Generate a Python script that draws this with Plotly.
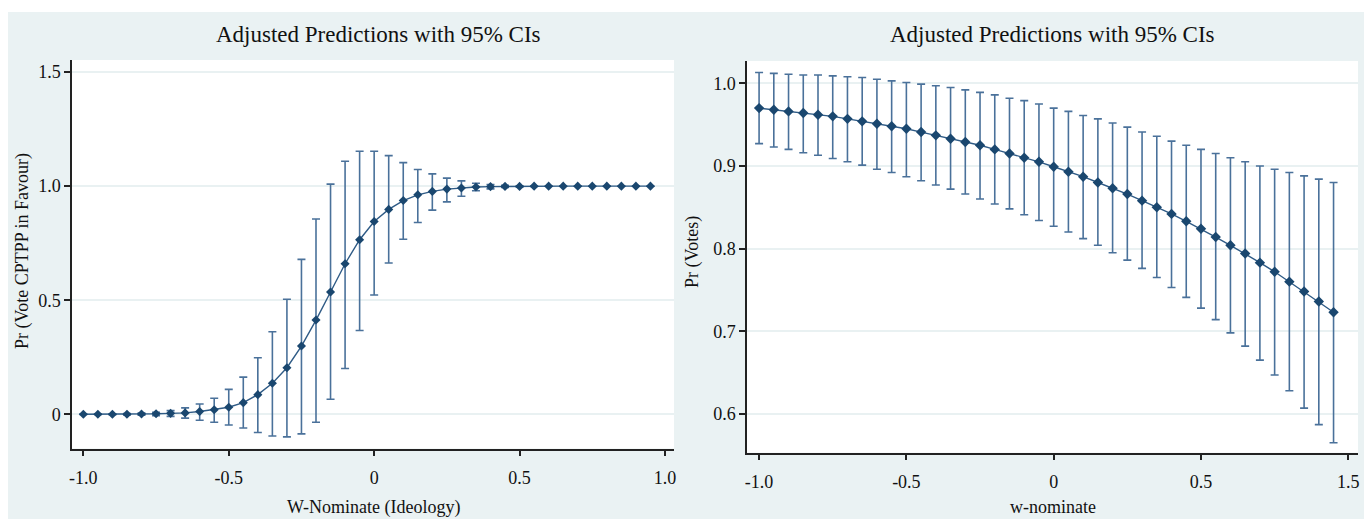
import plotly.graph_objects as go

# ---------------- data ----------------
x_left = [-1.00, -0.95, -0.90, -0.85, -0.80, -0.75, -0.70, -0.65, -0.60, -0.55,
          -0.50, -0.45, -0.40, -0.35, -0.30, -0.25, -0.20, -0.15, -0.10, -0.05,
          0.00, 0.05, 0.10, 0.15, 0.20, 0.25, 0.30, 0.35, 0.40, 0.45,
          0.50, 0.55, 0.60, 0.65, 0.70, 0.75, 0.80, 0.85, 0.90, 0.95]
pred_left = [0.000, 0.000, 0.000, 0.000, 0.001, 0.002, 0.004, 0.006, 0.012, 0.020,
             0.031, 0.051, 0.086, 0.136, 0.204, 0.299, 0.413, 0.536, 0.660, 0.765,
             0.845, 0.898, 0.937, 0.962, 0.977, 0.987, 0.992, 0.996, 0.998, 0.999,
             0.999, 1.000, 1.000, 1.000, 1.000, 1.000, 1.000, 1.000, 1.000, 1.000]
upper_left = [0.001, 0.001, 0.002, 0.003, 0.005, 0.009, 0.016, 0.028, 0.045, 0.070,
              0.109, 0.163, 0.248, 0.362, 0.504, 0.679, 0.856, 1.009, 1.109, 1.153,
              1.153, 1.134, 1.103, 1.073, 1.054, 1.035, 1.023, 1.013, 1.007, 1.004,
              1.002, 1.001, 1.000, 1.000, 1.000, 1.000, 1.000, 1.000, 1.000, 1.000]
lower_left = [-0.001, -0.001, -0.002, -0.003, -0.004, -0.006, -0.009, -0.017, -0.026, -0.035,
              -0.047, -0.060, -0.080, -0.095, -0.099, -0.086, -0.035, 0.066, 0.201, 0.367,
              0.523, 0.663, 0.767, 0.841, 0.895, 0.931, 0.956, 0.980, 0.988, 0.994,
              0.997, 0.999, 1.000, 1.000, 1.000, 1.000, 1.000, 1.000, 1.000, 1.000]

x_right = [-1.00, -0.95, -0.90, -0.85, -0.80, -0.75, -0.70, -0.65, -0.60, -0.55,
           -0.50, -0.45, -0.40, -0.35, -0.30, -0.25, -0.20, -0.15, -0.10, -0.05,
           0.00, 0.05, 0.10, 0.15, 0.20, 0.25, 0.30, 0.35, 0.40, 0.45,
           0.50, 0.55, 0.60, 0.65, 0.70, 0.75, 0.80, 0.85, 0.90, 0.95]
pred_right = [0.970, 0.968, 0.966, 0.964, 0.962, 0.960, 0.957, 0.954, 0.951, 0.948,
              0.945, 0.941, 0.937, 0.933, 0.929, 0.925, 0.920, 0.915, 0.910, 0.905,
              0.899, 0.893, 0.887, 0.880, 0.873, 0.866, 0.858, 0.850, 0.842, 0.833,
              0.824, 0.814, 0.804, 0.794, 0.783, 0.772, 0.760, 0.748, 0.736, 0.723]
upper_right = [1.013, 1.012, 1.011, 1.010, 1.010, 1.009, 1.008, 1.007, 1.005, 1.003,
               1.001, 0.999, 0.997, 0.995, 0.992, 0.989, 0.986, 0.982, 0.979, 0.975,
               0.970, 0.966, 0.961, 0.957, 0.952, 0.947, 0.941, 0.936, 0.930, 0.925,
               0.920, 0.915, 0.910, 0.905, 0.900, 0.896, 0.892, 0.888, 0.884, 0.880]
lower_right = [0.927, 0.923, 0.920, 0.916, 0.913, 0.909, 0.905, 0.901, 0.896, 0.892,
               0.887, 0.882, 0.877, 0.872, 0.866, 0.860, 0.854, 0.848, 0.841, 0.834,
               0.827, 0.820, 0.812, 0.804, 0.795, 0.786, 0.776, 0.765, 0.753, 0.741,
               0.728, 0.714, 0.698, 0.682, 0.665, 0.647, 0.628, 0.607, 0.587, 0.565]

x_tickvals = [-1.0, -0.5, 0.0, 0.5, 1.0]
x_ticktext_left = ["-1.0", "-0.5", "0", "0.5", "1.0"]
x_ticktext_right = ["-1.0", "-0.5", "0", "0.5", "1.5"]
y_tickvals_left = [0.0, 0.5, 1.0, 1.5]
y_ticktext_left = ["0", "0.5", "1.0", "1.5"]
y_tickvals_right = [0.6, 0.7, 0.8, 0.9, 1.0]
y_ticktext_right = ["0.6", "0.7", "0.8", "0.9", "1.0"]

title_text = "Adjusted Predictions with 95% CIs"
xlabel_left = "W-Nominate (Ideology)"
ylabel_left = "Pr (Vote CPTPP in Favour)"
xlabel_right = "w-nominate"
ylabel_right = "Pr (Votes)"

# ---------------- styling ----------------
W, H = 1372, 522
OFF = 8  # the page body places the figure 8 px from the window corner
FONT = "Liberation Serif"
BG = "#EAF2F3"
GRID = "#E9F1F2"
MARK = "#1A476F"
CI = "#4A719A"
LINE = "#2F5B86"


def fx(px):
    return (px - OFF) / W


def fy(py):
    return 1 - (py - OFF) / H


fig = go.Figure()


def add_panel(xs, ys, up, lo, xa, ya, msize):
    fig.add_trace(go.Scatter(
        x=xs, y=ys, xaxis=xa, yaxis=ya, mode="lines+markers",
        line=dict(color=LINE, width=1.4),
        marker=dict(symbol="diamond", size=msize, color=MARK),
        error_y=dict(type="data", symmetric=False,
                     array=[u - v for u, v in zip(up, ys)],
                     arrayminus=[v - l for v, l in zip(ys, lo)],
                     color=CI, thickness=1.6, width=4),
        showlegend=False, hoverinfo="skip"))


add_panel(x_left, pred_left, upper_left, lower_left, "x", "y", 7)
add_panel(x_right, pred_right, upper_right, lower_right, "x2", "y2", 8)

axis_common = dict(showline=True, linecolor="#222222", linewidth=1.5,
                   ticks="outside", tickcolor="#222222", tickwidth=1.5, ticklen=6,
                   tickfont=dict(family=FONT, size=18, color="#111111"),
                   zeroline=False, automargin=False, tickmode="array")

fig.update_layout(
    width=W, height=H,
    margin=dict(l=0, r=0, t=0, b=0, pad=0),
    paper_bgcolor=BG, plot_bgcolor="white",
    font=dict(family=FONT, color="#111111"),
    xaxis=dict(domain=[fx(72), fx(674)], range=[-1.039, 1.031], anchor="y",
               tickvals=x_tickvals, ticktext=x_ticktext_left, showgrid=False,
               ticklabelstandoff=6, **axis_common),
    yaxis=dict(domain=[fy(448.5), fy(60)], range=[-0.15, 1.553], anchor="x",
               tickvals=y_tickvals_left, ticktext=y_ticktext_left,
               showgrid=True, gridcolor=GRID, gridwidth=1.5, **axis_common),
    xaxis2=dict(domain=[fx(747), fx(1358)], range=[-1.041, 1.033], anchor="y2",
                tickvals=x_tickvals, ticktext=x_ticktext_right, showgrid=False,
                ticklabelstandoff=6, **axis_common),
    yaxis2=dict(domain=[fy(452.7), fy(61)], range=[0.553, 1.027], anchor="x2",
                tickvals=y_tickvals_right, ticktext=y_ticktext_right,
                showgrid=True, gridcolor=GRID, gridwidth=1.5, **axis_common),
)

# white outer frame around the light graph region (page coordinates)
frame = [(0, 0, 8, 530), (0, 0, 1380, 12), (1369, 0, 1380, 530), (0, 519, 1380, 530)]
for x0, y0, x1, y1 in frame:
    fig.add_shape(type="rect", xref="paper", yref="paper",
                  x0=fx(x0), x1=fx(x1), y0=fy(y1), y1=fy(y0),
                  fillcolor="white", line=dict(width=0), layer="below")

ann = [
    (title_text, 378, 34.5, 23, 0),
    (title_text, 1052, 34.5, 23, 0),
    (xlabel_left, 373, 507, 18, 0),
    (xlabel_right, 1053, 507, 18, 0),
    (ylabel_left, 23, 251, 18, -90),
    (ylabel_right, 693, 252, 18, -90),
]
for txt, px, py, size, rot in ann:
    fig.add_annotation(text=txt, x=fx(px), y=fy(py), xref="paper", yref="paper",
                       xanchor="center", yanchor="middle", showarrow=False,
                       textangle=rot, font=dict(family=FONT, size=size, color="#111111"))

fig.write_html("out.html")
